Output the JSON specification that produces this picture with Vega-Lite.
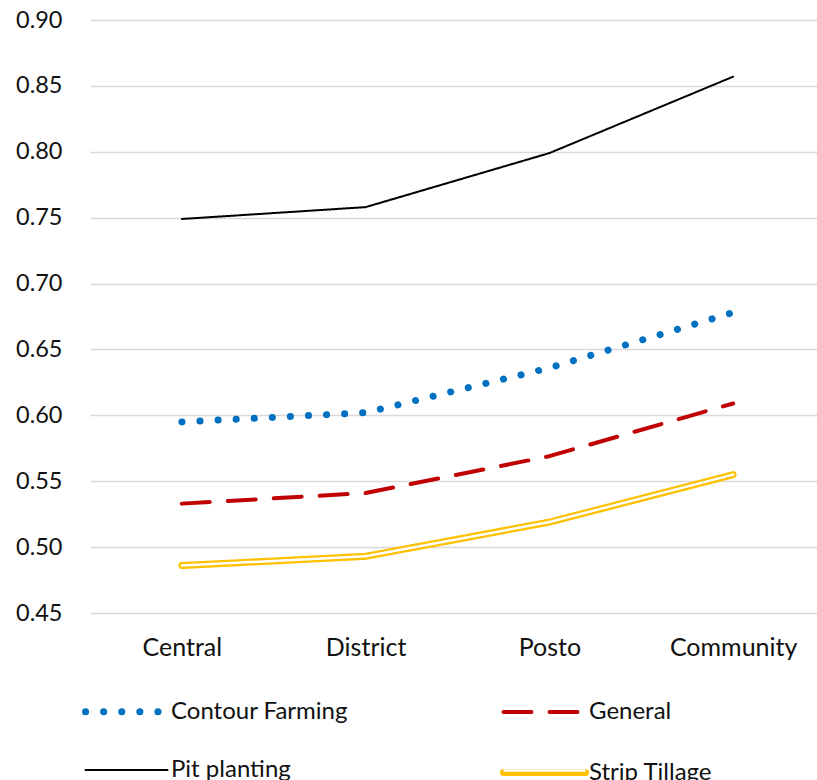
{
  "$schema": "https://vega.github.io/schema/vega-lite/v6.json",
  "width": 735,
  "height": 593,
  "autosize": {"type": "none"},
  "padding": {"left": 90, "top": 20, "right": 0, "bottom": 167},
  "background": "white",
  "config": {"view": {"stroke": null}, "font": "Lato"},
  "data": {
    "values": [
      {"series": "Pit planting", "level": "Central", "value": 0.749},
      {"series": "Pit planting", "level": "District", "value": 0.758},
      {"series": "Pit planting", "level": "Posto", "value": 0.799},
      {"series": "Pit planting", "level": "Community", "value": 0.857},
      {"series": "Contour Farming", "level": "Central", "value": 0.595},
      {"series": "Contour Farming", "level": "District", "value": 0.602},
      {"series": "Contour Farming", "level": "Posto", "value": 0.636},
      {"series": "Contour Farming", "level": "Community", "value": 0.678},
      {"series": "General", "level": "Central", "value": 0.533},
      {"series": "General", "level": "District", "value": 0.541},
      {"series": "General", "level": "Posto", "value": 0.569},
      {"series": "General", "level": "Community", "value": 0.609},
      {"series": "Strip Tillage", "level": "Central", "value": 0.486},
      {"series": "Strip Tillage", "level": "District", "value": 0.493},
      {"series": "Strip Tillage", "level": "Posto", "value": 0.519},
      {"series": "Strip Tillage", "level": "Community", "value": 0.555}
    ]
  },
  "encoding": {
    "x": {
      "field": "level",
      "type": "nominal",
      "sort": ["Central", "District", "Posto", "Community"],
      "scale": {"type": "point", "padding": 0.5},
      "axis": {
        "title": null,
        "labelAngle": 0,
        "labelFontSize": 25,
        "labelColor": "#111111",
        "labelPadding": 22,
        "domain": false,
        "ticks": false,
        "grid": false
      }
    },
    "y": {
      "field": "value",
      "type": "quantitative",
      "scale": {"domain": [0.45, 0.9], "nice": false, "zero": false},
      "axis": {
        "title": null,
        "values": [0.45, 0.5, 0.55, 0.6, 0.65, 0.7, 0.75, 0.8, 0.85, 0.9],
        "format": ".2f",
        "labelFontSize": 23.5,
        "labelColor": "#111111",
        "labelPadding": 28,
        "domain": false,
        "ticks": false,
        "grid": true,
        "gridColor": "#d9d9d9",
        "gridWidth": 1.5
      }
    }
  },
  "layer": [
    {
      "mark": {"type": "line", "interpolate": "linear", "strokeCap": "round", "strokeJoin": "round"},
      "encoding": {
        "color": {
          "field": "series",
          "type": "nominal",
          "scale": {
            "domain": ["Contour Farming", "General", "Pit planting", "Strip Tillage"],
            "range": ["#0070C0", "#C00000", "#000000", "#FFC000"]
          },
          "legend": {
            "title": null,
            "orient": "none",
            "direction": "horizontal",
            "legendX": -8,
            "legendY": 647,
            "columns": 2,
            "symbolType": "stroke",
            "symbolSize": 6724,
            "labelFontSize": 24,
            "labelLimit": 400,
            "labelColor": "#111111",
            "labelOffset": 0,
            "columnPadding": 141,
            "padding": 0,
            "encode": {"symbols": {"update": {"strokeCap": {"value": "round"}}}}
          }
        },
        "strokeDash": {
          "field": "series",
          "type": "nominal",
          "scale": {
            "domain": ["Contour Farming", "General", "Pit planting", "Strip Tillage"],
            "range": [[0.1, 18], [28, 18], [1, 0], [1, 0]]
          }
        },
        "strokeWidth": {
          "field": "series",
          "type": "nominal",
          "scale": {
            "type": "ordinal",
            "domain": ["Contour Farming", "General", "Pit planting", "Strip Tillage"],
            "range": [7, 4, 2, 7]
          }
        }
      }
    },
    {
      "transform": [{"filter": "datum.series === 'Strip Tillage'"}],
      "mark": {"type": "line", "interpolate": "linear", "strokeCap": "round", "strokeJoin": "round", "color": "white", "strokeWidth": 2.5},
      "encoding": {
        "opacity": {
          "field": "series",
          "type": "nominal",
          "scale": {"domain": ["Strip Tillage"], "range": [1]},
          "legend": {
            "title": null,
            "orient": "none",
            "legendX": 412,
            "legendY": 708,
            "symbolType": "stroke",
            "symbolSize": 6724,
            "symbolStrokeColor": "white",
            "symbolStrokeWidth": 2.5,
            "labelExpr": "''",
            "padding": 0
          }
        }
      }
    }
  ]
}
